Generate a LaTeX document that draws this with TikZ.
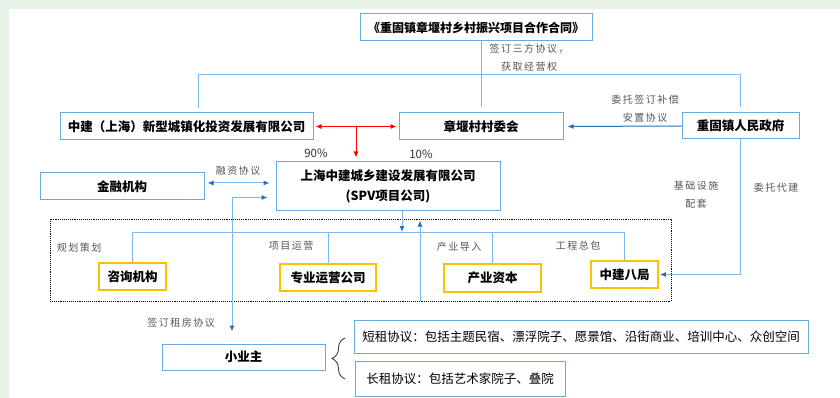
\documentclass[tikz,border=0pt]{standalone}
\usepackage{fontspec}
\setmainfont{Noto Sans CJK SC}
\newfontfamily\hand[LetterSpace=15]{Noto Sans CJK SC}
\usetikzlibrary{arrows.meta,calc,decorations.pathreplacing}
\definecolor{bg}{RGB}{232,243,233}
\definecolor{boxblue}{RGB}{105,170,228}
\definecolor{lineblue}{RGB}{125,185,235}
\definecolor{tipblue}{RGB}{40,110,190}
\definecolor{gold}{RGB}{255,192,0}
\definecolor{note}{RGB}{85,85,85}
\begin{document}
\begin{tikzpicture}[x=1pt,y=-1pt,
  box/.style={draw=boxblue,line width=1pt,fill=white,inner sep=0pt,align=center,
    font=\bfseries\fontsize{12.5}{20}\selectfont},
  unit/.style={draw=gold,line width=1.8pt,fill=white,inner sep=0pt,
    font=\bfseries\fontsize{12.5}{15}\selectfont},
  lease/.style={draw=boxblue,line width=1pt,fill=white,inner sep=0pt,
    font=\fontsize{12.5}{15}\selectfont},
  link/.style={draw=lineblue,line width=1pt},
  arr/.style={-{Latex[length=6pt,width=5pt,color=tipblue]}},
  darr/.style={{Latex[length=6pt,width=5pt,color=tipblue]}-{Latex[length=6pt,width=5pt,color=tipblue]}},
  hint/.style={text=note,align=center,font=\hand\fontsize{10}{18}\selectfont},
  pct/.style={text=black!80,font=\fontsize{11.5}{14}\selectfont}]
\fill[bg] (0,0) rectangle (840,398);
\fill[white] (9,9) rectangle (840,398);
\useasboundingbox (0,0) rectangle (840,398);

% boxes
\node[box,font=\bfseries\fontsize{12}{15}\selectfont,minimum width=232pt,minimum height=27pt] (contract) at (476,27.5) {《重固镇章堰村乡村振兴项目合作合同》};
\node[box,minimum width=253pt,minimum height=27pt] (zj) at (186.5,126.5) {中建（上海）新型城镇化投资发展有限公司};
\node[box,minimum width=164pt,minimum height=27pt] (vil) at (481,126.5) {章堰村村委会};
\node[box,minimum width=117pt,minimum height=26pt] (gov) at (740.5,126) {重固镇人民政府};
\node[box,minimum width=224pt,minimum height=48pt] (spv) at (388,186) {上海中建城乡建设发展有限公司\\(SPV项目公司)};
\node[box,minimum width=164pt,minimum height=27pt] (fin) at (122,186.5) {金融机构};
\node[draw,densely dotted,line width=0.9pt,minimum width=621pt,minimum height=82pt] (grp) at (360.5,260) {};
\node[unit,minimum width=67pt,minimum height=27pt] (zx) at (132.5,276.5) {咨询机构};
\node[unit,minimum width=96pt,minimum height=27pt] (yy) at (328,277.5) {专业运营公司};
\node[unit,minimum width=97pt,minimum height=28pt] (cy) at (492.5,278) {产业资本};
\node[unit,minimum width=67pt,minimum height=27pt] (b8) at (624.5,274.5) {中建八局};
\node[box,minimum width=163pt,minimum height=26pt] (owner) at (243.5,357) {小业主};
\node[lease,minimum width=454pt,minimum height=33pt] (short) at (581,336.5) {短租协议：包括主题民宿、漂浮院子、愿景馆、沿街商业、培训中心、众创空间};
\node[lease,minimum width=210pt,minimum height=35pt] (long) at (460,378.5) {长租协议：包括艺术家院子、叠院};

\coordinate (top) at (0,75);
\coordinate (hl) at (0,232);
\coordinate (fork) at (198,0);
\coordinate (rent) at (232,197.5);
\coordinate (down) at (402,0);
\coordinate (up) at (420,0);
\coordinate (mid) at ($(zj.east)!.5!(vil.west)$);

% contract and the three parties
\draw[link,shorten <=4pt,shorten >=5pt] (fork |- zj.north) -- (fork |- top) -- (gov.north |- top) -- (gov.north);
\draw[link,shorten >=5pt] (vil.north |- contract.south) -- (vil.north);
\node[hint] (sign) at (529,58) {签订三方协议，\\获取经营权};

% shares
\draw[red,line width=0.9pt,{Latex[length=6pt,width=5pt]}-{Latex[length=6pt,width=5pt]},shorten <=2pt,shorten >=2pt] (zj.east) -- (vil.west);
\draw[red,line width=0.9pt,-{Latex[length=6pt,width=5pt]},shorten >=4pt] (mid) -- (mid |- spv.north);
\node[pct] (p90) at (316,153) {90\%};
\node[pct] (p10) at (421,154) {10\%};

\draw[link,draw=tipblue,arr,shorten >=4pt] (gov.west) -- (vil.east);
\node[hint] (comp) at (645,109) {委托签订补偿\\安置协议};

\draw[link,darr,shorten <=3pt,shorten >=6pt] ([yshift=3.5pt]fin.east) -- ([yshift=3.5pt]fin.east -| spv.west);
\node[hint] (loan) at (238,171) {融资协议};

\draw[link,darr,shorten <=8pt,shorten >=12pt] (spv.west |- rent) -- (rent) -- (rent |- owner.north);
\node[hint] (lease) at (181,323) {签订租房协议};

% SPV and partners
\draw[link,arr] (spv.south -| down) -- (down |- hl);
\draw[link,arr,shorten >=10pt] (up |- grp.south) -- (up |- spv.south);
\draw[link] (zx.north) |- (b8.north |- hl) -- (b8.north);
\foreach \n in {yy,cy}
  \draw[link] (\n.north) -- (\n.north |- hl);
\node[hint] at (79,248) {规划策划};
\node[hint] at (291,246) {项目运营};
\node[hint] at (459,247) {产业导入};
\node[hint] at (578,246) {工程总包};

\draw[link,arr,shorten >=1pt] (gov.south) |- (b8.east);
\node[hint] at (696,195) {基础设施\\配套};
\node[hint] at (776,188) {委托代建};

\draw[black!75,line width=0.9pt,decorate,decoration={brace,amplitude=13pt}] (345,379) -- (345,338);
\end{tikzpicture}
\end{document}
